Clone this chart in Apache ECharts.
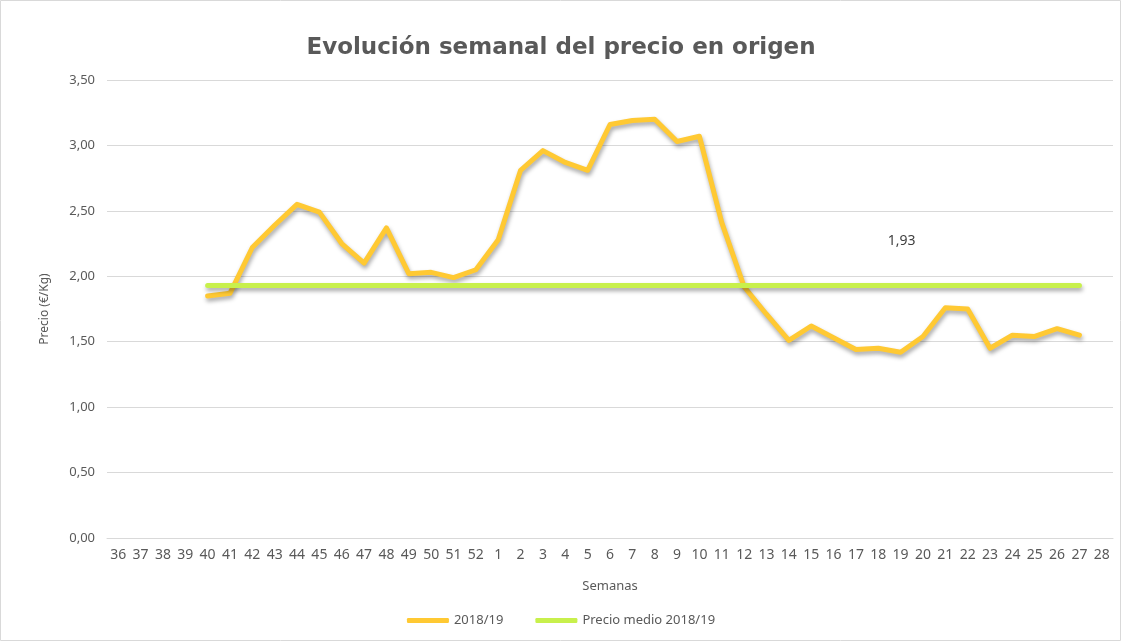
<!DOCTYPE html>
<html><head><meta charset="utf-8">
<script src="https://cdn.jsdelivr.net/npm/echarts@6/dist/echarts.min.js"></script>
<style>html,body{margin:0;padding:0;background:#fff}#c{width:1122px;height:642px}</style>
</head><body><div id="c"></div>
<script>
const weeks = ['36','37','38','39','40','41','42','43','44','45','46','47','48','49','50','51','52','1','2','3','4','5','6','7','8','9','10','11','12','13','14','15','16','17','18','19','20','21','22','23','24','25','26','27','28'];
const precio = [null,null,null,null,1.85,1.87,2.22,2.39,2.55,2.49,2.25,2.10,2.37,2.02,2.03,1.99,2.05,2.28,2.81,2.96,2.87,2.81,3.16,3.19,3.20,3.03,3.07,2.41,1.92,1.71,1.51,1.62,1.53,1.44,1.45,1.42,1.54,1.76,1.75,1.45,1.55,1.54,1.60,1.55,null];
const medioValue = 1.93;
const medio = weeks.map((w,i)=> (precio[i]==null ? null : medioValue));
const labelWeek = '19';
const yTicks = {min:0, max:3.5, interval:0.5};

const font = "'Noto Sans', sans-serif";
const fmt = v => v.toFixed(2).replace('.',',');
const chart = echarts.init(document.getElementById('c'));
chart.setOption({
  animation:false,
  title:{text:'Evolución semanal del precio en origen', left:'center', top:32,
    textStyle:{fontFamily:"'DejaVu Sans', sans-serif", fontSize:23, fontWeight:'bold', color:'#595959'}},
  grid:{left:107, right:9, top:80, bottom:104},
  graphic:[{type:'rect', shape:{x:0.5,y:0.5,width:1120,height:640}, style:{fill:'none', stroke:'#d9d9d9', lineWidth:1}, silent:true}],
  legend:{bottom:10, left:'center', itemWidth:42, itemHeight:5, itemGap:32,
    icon:'roundRect',
    textStyle:{fontFamily:font, fontSize:13, color:'#595959'},
    data:['2018/19','Precio medio 2018/19']},
  xAxis:{type:'category', data:weeks, boundaryGap:true,
    name:'Semanas', nameLocation:'middle', nameGap:42,
    nameTextStyle:{fontFamily:font, fontSize:13, color:'#595959'},
    axisLine:{show:true, lineStyle:{color:'#d9d9d9'}}, axisTick:{show:false},
    axisLabel:{interval:0, fontFamily:font, fontSize:14, color:'#595959', margin:10}},
  yAxis:{type:'value', min:yTicks.min, max:yTicks.max, interval:yTicks.interval,
    name:'Precio (€/Kg)', nameLocation:'middle', nameGap:56, nameRotate:90,
    nameTextStyle:{fontFamily:font, fontSize:12, color:'#595959'},
    axisLine:{show:false}, axisTick:{show:false},
    splitLine:{lineStyle:{color:'#d9d9d9'}},
    axisLabel:{fontFamily:font, fontSize:13, color:'#595959', margin:12, formatter:fmt}},
  series:[
    {name:'2018/19', type:'line', data:precio, symbol:'none', connectNulls:false,
      itemStyle:{color:'#FFC933'},
      lineStyle:{color:'#FFC933', width:5, cap:'round', join:'round',
        shadowColor:'rgba(0,0,0,0.35)', shadowBlur:4, shadowOffsetX:1, shadowOffsetY:3}},
    {name:'Precio medio 2018/19', type:'line', data:medio,
      symbol:'none', itemStyle:{color:'#C8F04C'},
      lineStyle:{color:'#C8F04C', width:5, cap:'round',
        shadowColor:'rgba(0,0,0,0.35)', shadowBlur:4, shadowOffsetX:1, shadowOffsetY:3},
      markPoint:{symbol:'circle', symbolSize:0, silent:true,
        label:{show:true, position:'inside', offset:[1,-44], formatter:()=>fmt(medioValue),
          fontFamily:font, fontSize:14, color:'#404040'},
        data:[{coord:[labelWeek, medioValue], value:medioValue}]}}
  ]
});
</script></body></html>
